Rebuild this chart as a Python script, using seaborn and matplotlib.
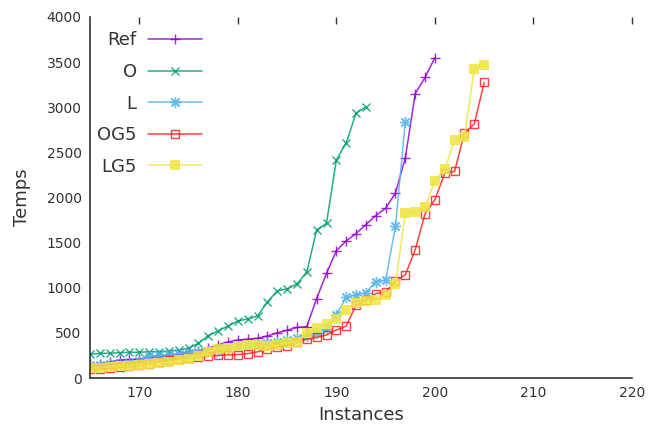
import numpy as np
import pandas as pd
import matplotlib
matplotlib.use("Agg")
import matplotlib.pyplot as plt
import seaborn as sns

# ---- data ----
ref_x = list(range(165, 201))
ref_y = [150, 160, 180, 200, 205, 210, 230, 240, 250, 270, 290, 300, 330, 366, 400,
         420, 430, 440, 466, 500, 530, 560, 570, 880, 1160, 1410, 1520, 1600, 1700,
         1800, 1880, 2050, 2440, 3150, 3330, 3550]

o_x = list(range(165, 194))
o_y = [263, 274, 274, 281, 285, 285, 292, 292, 300, 310, 330, 385, 470, 521, 576,
       632, 654, 687, 843, 965, 987, 1042, 1175, 1640, 1715, 2417, 2605, 2935, 3004]

l_x = list(range(165, 198))
l_y = [140, 145, 150, 160, 170, 190, 240, 250, 260, 270, 280, 290, 300, 310, 330,
       350, 370, 380, 390, 400, 420, 440, 470, 500, 540, 700, 895, 920, 946, 1068,
       1083, 1680, 2842]

og5_x = list(range(165, 206))
og5_y = [100, 100, 110, 120, 130, 140, 160, 180, 200, 210, 220, 230, 240, 250, 255,
         260, 270, 290, 320, 340, 360, 400, 430, 451, 477, 532, 575, 809, 865, 935,
         955, 1070, 1145, 1420, 1820, 1975, 2270, 2290, 2715, 2815, 3275]

lg5_x = list(range(165, 206))
lg5_y = [110, 110, 125, 130, 135, 145, 150, 165, 175, 195, 210, 245, 290, 320, 335,
         350, 365, 365, 350, 370, 390, 400, 500, 550, 600, 650, 756, 828, 848, 868,
         915, 1042, 1828, 1836, 1895, 2186, 2313, 2640, 2670, 3422, 3472]

labels = ["Ref", "O", "L", "OG5", "LG5"]
colors = ["#9400D3", "#009E73", "#56B4E9", "#FF2020", "#F0E442"]

series = [(ref_x, ref_y), (o_x, o_y), (l_x, l_y), (og5_x, og5_y), (lg5_x, lg5_y)]

sns.set_style("white")
plt.rcParams['font.family'] = ['DejaVu Sans']

fig = plt.figure(figsize=(6.51, 4.28), dpi=100)
ax = fig.add_axes([90/651, 1-378/428, (632-90)/651, (378-17)/428])

marker_kw = {
    "Ref": dict(marker="+", markersize=7, markeredgewidth=1.0),
    "O": dict(marker="x", markersize=6, markeredgewidth=1.0),
    "L": dict(marker=(8, 2, 0), markersize=8, markeredgewidth=1.0),
    "OG5": dict(marker="s", markersize=6, markeredgewidth=1.0, markerfacecolor="none"),
    "LG5": dict(marker="s", markersize=7, markeredgewidth=0.0),
}

for (xs, ys), lab, col in zip(series, labels, colors):
    df = pd.DataFrame({"Instances": xs, "Temps": ys})
    kw = dict(marker_kw[lab])
    kw.setdefault("markeredgecolor", col)
    sns.lineplot(data=df, x="Instances", y="Temps", ax=ax, color=col, label=lab,
                 linewidth=1.1, alpha=0.85, **kw)

ax.set_xlim(165, 220)
ax.set_ylim(0, 4000)
ax.set_xticks([170, 180, 190, 200, 210, 220])
ax.set_yticks(range(0, 4001, 500))

for s in ["top", "right"]:
    ax.spines[s].set_visible(False)
for s in ["left", "bottom"]:
    ax.spines[s].set_color("#333333")
    ax.spines[s].set_linewidth(1.2)

ax.tick_params(axis="both", direction="in", length=5, width=1, colors="#333333",
               labelsize=10, labelcolor="#333333", top=True, pad=6)

ax.set_xlabel("Instances", fontsize=13, color="#333333", labelpad=4)
ax.set_ylabel("Temps", fontsize=13, color="#333333", labelpad=11)

leg = ax.legend(loc="upper left", bbox_to_anchor=(0.0, 0.98), markerfirst=False,
                frameon=False, fontsize=13, handlelength=3.0, labelspacing=0.75,
                handletextpad=0.6, borderaxespad=0.0)
for t in leg.get_texts():
    t.set_color("#333333")

fig.savefig("out.png", dpi=100)
